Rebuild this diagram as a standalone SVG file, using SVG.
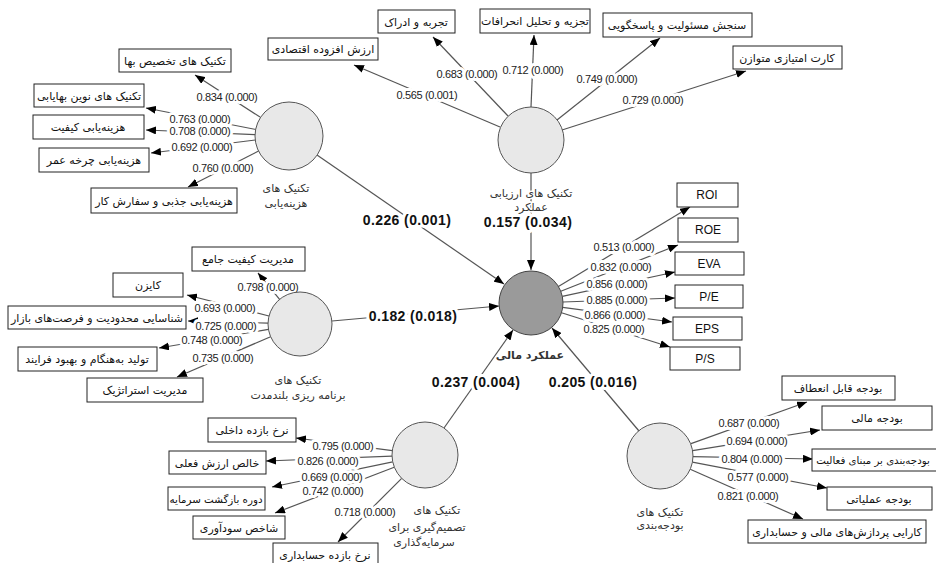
<svg xmlns="http://www.w3.org/2000/svg" width="936" height="563" viewBox="0 0 936 563">
<defs>
<marker id="ah" markerUnits="userSpaceOnUse" markerWidth="10" markerHeight="8" refX="10" refY="4" orient="auto" viewBox="0 0 10 8">
<path d="M0,0 L10,4 L0,8 z" fill="#000"/>
</marker>
<style>
.bg{fill:#fff}
.c{fill:#e8e8e8;stroke:#555;stroke-width:1}
.c0{fill:#9a9a9a;stroke:#444;stroke-width:1}
.b{fill:#fff;stroke:#222;stroke-width:1}
.fa{font-family:"DejaVu Sans",sans-serif;font-size:11px;fill:#111;text-anchor:middle;direction:rtl}
.cl{font-family:"DejaVu Sans",sans-serif;font-size:11px;fill:#333;text-anchor:middle;direction:rtl;paint-order:stroke;stroke:#fff;stroke-width:3px;stroke-linejoin:round}
.en{font-family:"Liberation Sans",sans-serif;font-size:12px;fill:#111;text-anchor:middle}
.ln{stroke:#555;stroke-width:1.2;fill:none;marker-end:url(#ah)}
.lb{font-family:"Liberation Sans",sans-serif;font-size:11px;letter-spacing:-0.35px;fill:#222;text-anchor:middle;paint-order:stroke;stroke:#fff;stroke-width:6px;stroke-linejoin:round}
.pb{font-family:"Liberation Sans",sans-serif;font-size:14px;font-weight:bold;letter-spacing:0.4px;fill:#111;text-anchor:middle;paint-order:stroke;stroke:#fff;stroke-width:6px;stroke-linejoin:round}
</style>
</defs>
<rect class="bg" x="0" y="0" width="936" height="563"/>

<g id="connectors">
<line class="ln" x1="260" y1="117" x2="195" y2="75"/>
<line class="ln" x1="256" y1="129.5" x2="146" y2="108"/>
<line class="ln" x1="255" y1="134.6" x2="146" y2="130"/>
<line class="ln" x1="255.3" y1="140" x2="151" y2="153"/>
<line class="ln" x1="258.6" y1="151" x2="188" y2="187"/>
<line class="ln" x1="500" y1="127" x2="354" y2="65"/>
<line class="ln" x1="508" y1="116" x2="433" y2="37"/>
<line class="ln" x1="531" y1="107" x2="534" y2="35"/>
<line class="ln" x1="557" y1="120" x2="660" y2="38"/>
<line class="ln" x1="562" y1="130" x2="746" y2="71"/>
<line class="ln" x1="558.4" y1="286.5" x2="690" y2="207"/>
<line class="ln" x1="560.8" y1="291.3" x2="678" y2="245"/>
<line class="ln" x1="562.3" y1="296.3" x2="675" y2="272"/>
<line class="ln" x1="563" y1="302" x2="675" y2="298"/>
<line class="ln" x1="562.7" y1="307.3" x2="672" y2="322"/>
<line class="ln" x1="561.5" y1="312.7" x2="670" y2="347"/>
<line class="ln" x1="279.6" y1="299.3" x2="258" y2="273"/>
<line class="ln" x1="269" y1="316" x2="187" y2="295"/>
<line class="ln" x1="268" y1="323.1" x2="188" y2="321"/>
<line class="ln" x1="268.4" y1="329.4" x2="159" y2="348"/>
<line class="ln" x1="270.6" y1="336.7" x2="177" y2="377"/>
<line class="ln" x1="392.3" y1="450.7" x2="296" y2="438"/>
<line class="ln" x1="392" y1="456.2" x2="266" y2="461"/>
<line class="ln" x1="392.7" y1="461.8" x2="272" y2="487"/>
<line class="ln" x1="394.2" y1="467.3" x2="275" y2="513"/>
<line class="ln" x1="401.7" y1="478.3" x2="338" y2="542"/>
<line class="ln" x1="691" y1="443.6" x2="807" y2="402"/>
<line class="ln" x1="692.6" y1="450.7" x2="820" y2="430"/>
<line class="ln" x1="693" y1="456.6" x2="813" y2="459"/>
<line class="ln" x1="692.4" y1="462.2" x2="827" y2="488"/>
<line class="ln" x1="690.2" y1="469.3" x2="803" y2="519"/>
<line class="ln" x1="317" y1="155" x2="504" y2="284"/>
<line class="ln" x1="531" y1="173" x2="531" y2="270"/>
<line class="ln" x1="332" y1="321" x2="499" y2="306"/>
<line class="ln" x1="444" y1="428" x2="513" y2="330"/>
<line class="ln" x1="639" y1="431" x2="552" y2="328"/>

<text class="lb" x="227" y="101">0.834 (0.000)</text>
<text class="lb" x="200" y="123">0.763 (0.000)</text>
<text class="lb" x="200" y="135">0.708 (0.000)</text>
<text class="lb" x="202" y="151">0.692 (0.000)</text>
<text class="lb" x="223" y="172">0.760 (0.000)</text>

<text class="lb" x="427" y="99">0.565 (0.001)</text>
<text class="lb" x="533" y="74">0.712 (0.000)</text>
<text class="lb" x="467" y="78">0.683 (0.000)</text>
<text class="lb" x="607" y="83">0.749 (0.000)</text>
<text class="lb" x="653" y="104">0.729 (0.000)</text>

<text class="lb" x="624" y="251">0.513 (0.000)</text>
<text class="lb" x="621" y="271">0.832 (0.000)</text>
<text class="lb" x="617" y="288">0.856 (0.000)</text>
<text class="lb" x="617" y="304">0.885 (0.000)</text>
<text class="lb" x="615" y="319">0.866 (0.000)</text>
<text class="lb" x="614" y="333">0.825 (0.000)</text>

<text class="lb" x="268" y="291">0.798 (0.000)</text>
<text class="lb" x="225" y="312">0.693 (0.000)</text>
<text class="lb" x="226" y="330">0.725 (0.000)</text>
<text class="lb" x="212" y="344">0.748 (0.000)</text>
<text class="lb" x="223" y="362">0.735 (0.000)</text>

<text class="lb" x="343" y="450">0.795 (0.000)</text>
<text class="lb" x="328" y="465">0.826 (0.000)</text>
<text class="lb" x="332" y="481">0.669 (0.000)</text>
<text class="lb" x="333" y="495">0.742 (0.000)</text>
<text class="lb" x="365" y="516">0.718 (0.000)</text>

<text class="lb" x="749" y="427">0.687 (0.000)</text>
<text class="lb" x="757" y="445">0.694 (0.000)</text>
<text class="lb" x="752" y="463">0.804 (0.000)</text>
<text class="lb" x="758" y="481">0.577 (0.000)</text>
<text class="lb" x="748" y="500">0.821 (0.000)</text>

<text class="pb" x="407" y="225">0.226 (0.001)</text>
<text class="pb" x="528" y="227">0.157 (0.034)</text>
<text class="pb" x="413" y="321">0.182 (0.018)</text>
<text class="pb" x="476" y="387">0.237 (0.004)</text>
<text class="pb" x="593" y="387">0.205 (0.016)</text>
</g>

<g id="cost-techniques">
<circle class="c" cx="289" cy="136" r="34"/>
<text class="cl" x="286" y="192">تکنیک های</text>
<text class="cl" x="286" y="207">هزینه‌یابی</text>
</g>
<g id="evaluation-techniques">
<circle class="c" cx="531" cy="140" r="33"/>
<text class="cl" x="531" y="197">تکنیک های ارزیابی</text>
<text class="cl" x="531" y="211">عملکرد</text>
</g>
<g id="financial-performance">
<circle class="c0" cx="531" cy="303" r="32"/>
<text class="cl" x="530" y="359" font-weight="bold">عملکرد مالی</text>
</g>
<g id="long-term-planning">
<circle class="c" cx="300" cy="324" r="32"/>
<text class="cl" x="298" y="384">تکنیک های</text>
<text class="cl" x="298" y="399">برنامه ریزی بلندمدت</text>
</g>
<g id="investment-decision">
<circle class="c" cx="425" cy="455" r="33"/>
<text class="cl" x="437" y="514">تکنیک های</text>
<text class="cl" x="427" y="531">تصمیم‌گیری برای</text>
<text class="cl" x="424" y="546">سرمایه‌گذاری</text>
</g>
<g id="budgeting-techniques">
<circle class="c" cx="660" cy="456" r="33"/>
<text class="cl" x="660" y="516">تکنیک های</text>
<text class="cl" x="660" y="529">بودجه‌بندی</text>
</g>

<g id="i-allocation"><rect class="b" x="119" y="49" width="112" height="23"/><text class="fa" x="175" y="65">تکنیک های تخصیص بها</text></g>
<g id="i-new-pricing"><rect class="b" x="34" y="84" width="110" height="23"/><text class="fa" x="89" y="100">تکنیک های نوین بهایابی</text></g>
<g id="i-quality-cost"><rect class="b" x="33" y="115" width="111" height="24"/><text class="fa" x="88" y="131">هزینه‌یابی کیفیت</text></g>
<g id="i-lifecycle"><rect class="b" x="39" y="148" width="110" height="24"/><text class="fa" x="94" y="164">هزینه‌یابی چرخه عمر</text></g>
<g id="i-absorption"><rect class="b" x="91" y="188" width="146" height="25"/><text class="fa" x="164" y="205">هزینه‌یابی جذبی و سفارش کار</text></g>

<g id="i-eva-econ"><rect class="b" x="268" y="38" width="110" height="22"/><text class="fa" x="323" y="53">ارزش افزوده اقتصادی</text></g>
<g id="i-experience"><rect class="b" x="378" y="10" width="77" height="23"/><text class="fa" x="416" y="26">تجربه و ادراک</text></g>
<g id="i-variance"><rect class="b" x="480" y="9" width="110" height="24"/><text class="fa" x="535" y="25">تجزیه و تحلیل انحرافات</text></g>
<g id="i-responsibility"><rect class="b" x="603" y="13" width="149" height="24"/><text class="fa" x="677" y="29">سنجش مسئولیت و پاسخگویی</text></g>
<g id="i-bsc"><rect class="b" x="733" y="46" width="109" height="23"/><text class="fa" x="787" y="62">کارت امتیازی متوازن</text></g>

<g id="i-roi"><rect class="b" x="677" y="183" width="61" height="24"/><text class="en" x="707" y="199">ROI</text></g>
<g id="i-roe"><rect class="b" x="678" y="218" width="60" height="24"/><text class="en" x="708" y="234">ROE</text></g>
<g id="i-eva"><rect class="b" x="675" y="252" width="69" height="23"/><text class="en" x="709" y="268">EVA</text></g>
<g id="i-pe"><rect class="b" x="675" y="285" width="68" height="23"/><text class="en" x="709" y="301">P/E</text></g>
<g id="i-eps"><rect class="b" x="673" y="317" width="69" height="23"/><text class="en" x="707" y="333">EPS</text></g>
<g id="i-ps"><rect class="b" x="670" y="347" width="70" height="23"/><text class="en" x="705" y="363">P/S</text></g>

<g id="i-tqm"><rect class="b" x="192" y="247" width="113" height="24"/><text class="fa" x="248" y="263">مدیریت کیفیت جامع</text></g>
<g id="i-kaizen"><rect class="b" x="113" y="273" width="70" height="24"/><text class="fa" x="148" y="289">کایزن</text></g>
<g id="i-constraints"><rect class="b" x="8" y="306" width="178" height="23"/><text class="fa" x="97" y="322">شناسایی محدودیت و فرصت‌های بازار</text></g>
<g id="i-jit"><rect class="b" x="18" y="347" width="139" height="24"/><text class="fa" x="87" y="363">تولید به‌هنگام و بهبود فرایند</text></g>
<g id="i-strategic"><rect class="b" x="87" y="378" width="116" height="24"/><text class="fa" x="145" y="394">مدیریت استراتژیک</text></g>

<g id="i-irr"><rect class="b" x="208" y="418" width="88" height="24"/><text class="fa" x="252" y="434">نرخ بازده داخلی</text></g>
<g id="i-npv"><rect class="b" x="169" y="451" width="97" height="23"/><text class="fa" x="217" y="467">خالص ارزش فعلی</text></g>
<g id="i-payback"><rect class="b" x="168" y="487" width="97" height="23"/><text class="fa" x="216" y="503" style="font-size:10.3px">دوره بازگشت سرمایه</text></g>
<g id="i-pi"><rect class="b" x="193" y="516" width="92" height="23"/><text class="fa" x="239" y="532">شاخص سودآوری</text></g>
<g id="i-arr"><rect class="b" x="273" y="543" width="105" height="26"/><text class="fa" x="325" y="559">نرخ بازده حسابداری</text></g>

<g id="i-flexible"><rect class="b" x="782" y="376" width="113" height="24"/><text class="fa" x="838" y="392">بودجه قابل انعطاف</text></g>
<g id="i-financial-budget"><rect class="b" x="822" y="406" width="110" height="24"/><text class="fa" x="877" y="422">بودجه مالی</text></g>
<g id="i-abb"><rect class="b" x="812" y="449" width="140" height="22"/><text class="fa" x="873" y="464" style="font-size:10.2px">بودجه‌بندی بر مبنای فعالیت</text></g>
<g id="i-operating"><rect class="b" x="827" y="487" width="105" height="23"/><text class="fa" x="879" y="503">بودجه عملیاتی</text></g>
<g id="i-processing"><rect class="b" x="748" y="520" width="178" height="23"/><text class="fa" x="837" y="536">کارایی پردازش‌های مالی و حسابداری</text></g>
</svg>
